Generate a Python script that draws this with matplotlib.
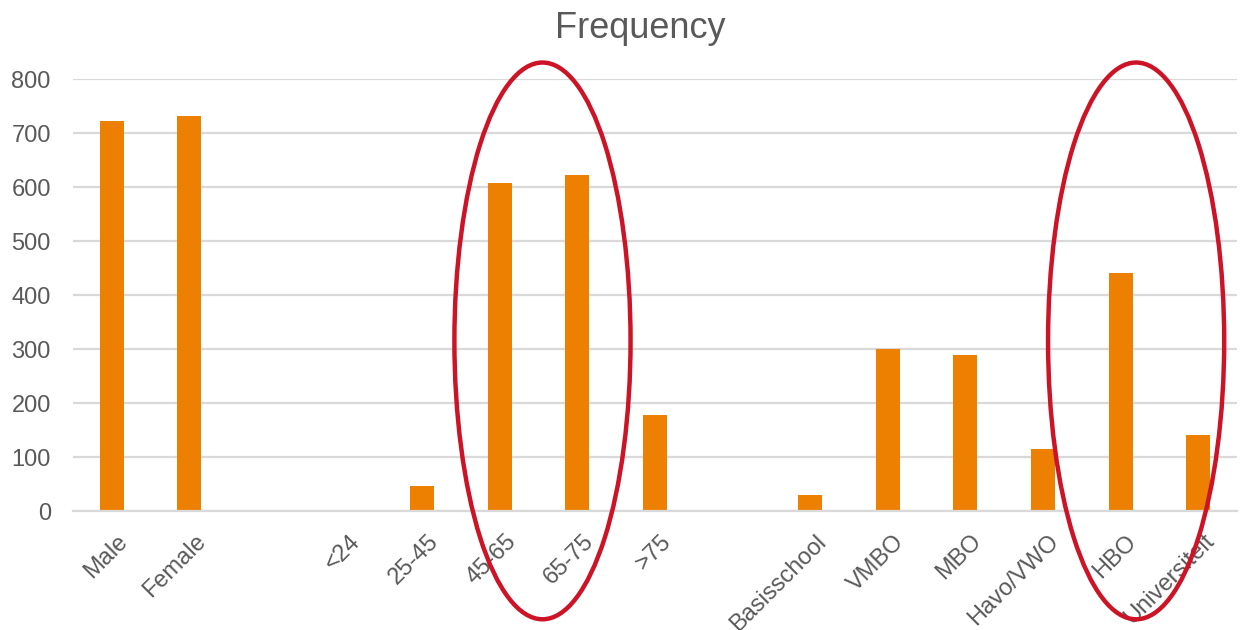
import matplotlib.pyplot as plt
import matplotlib.transforms as mtransforms
from matplotlib.patches import Ellipse

plt.rcParams['font.family'] = ['Liberation Sans', 'DejaVu Sans']

categories = ['Male', 'Female', '', '<24', '25-45', '45-65', '65-75', '>75', '',
              'Basisschool', 'VMBO', 'MBO', 'Havo/VWO', 'HBO', 'Universiteit']
frequency = [723, 732, 0, 0, 46, 607, 623, 178, 0, 30, 300, 288, 115, 441, 141]

bar_color = '#ED8000'
grid_color = '#D9D9D9'
text_color = '#595959'
ring_color = '#CC1426'

fig = plt.figure(figsize=(12.41, 6.30), dpi=100)
ax = fig.add_axes([73 / 1241, 119 / 630, 1164 / 1241, 432 / 630])

x = list(range(len(categories)))
ax.bar(x, frequency, width=0.31, color=bar_color, zorder=2)

ax.set_xlim(-0.5, len(categories) - 0.5)
ax.set_ylim(0, 800)
ax.set_yticks(range(0, 801, 100))
ax.grid(axis='y', color=grid_color, linewidth=1.6, zorder=0)
ax.set_xticks(x)
ax.set_xticklabels(categories, rotation=45, ha='right', rotation_mode='anchor')
ax.tick_params(length=0, labelsize=17, colors=text_color)
ax.tick_params(axis='x', pad=14)
ax.tick_params(axis='y', pad=16)
shift = mtransforms.ScaledTranslation(5 / 100, 0, fig.dpi_scale_trans)
for lab in ax.get_xticklabels():
    lab.set_transform(lab.get_transform() + shift)
for side in ['top', 'right', 'left']:
    ax.spines[side].set_visible(False)
ax.spines['bottom'].set_color(grid_color)
ax.spines['bottom'].set_linewidth(1.6)

fig.text(640 / 1241, 1 - 29 / 630, 'Frequency', fontsize=26, color=text_color,
         ha='center', va='center')

# red rings around the highlighted groups
for cx in [5.55, 13.2]:
    ring = Ellipse((cx, 315), width=2.27, height=1031, fill=False,
                   edgecolor=ring_color, linewidth=3.2, clip_on=False, zorder=3)
    ax.add_patch(ring)

plt.savefig('out.png')
